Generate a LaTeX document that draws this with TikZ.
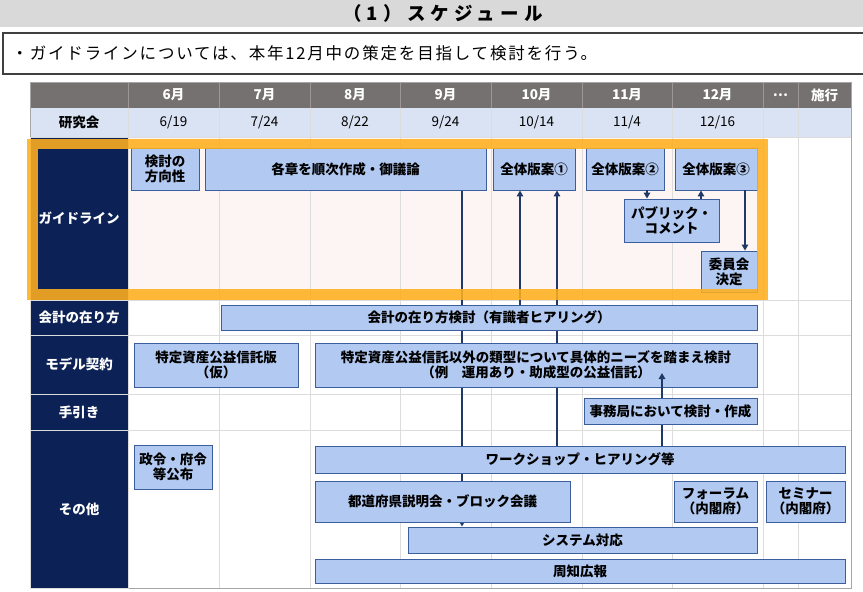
\documentclass[tikz,border=0pt]{standalone}
\usepackage{fontspec}
\setmainfont{Noto Sans CJK JP}
\newfontfamily\titlefont{Noto Sans CJK JP}[LetterSpace=28]
\newfontfamily\leadfont{Noto Sans CJK JP}[LetterSpace=11]
\usetikzlibrary{arrows.meta}

\definecolor{titlegray}{HTML}{D9D9D9}
\definecolor{boxline}{HTML}{404040}
\definecolor{hdrgray}{HTML}{767171}
\definecolor{hdrsep}{HTML}{9C9696}
\definecolor{kenblue}{HTML}{DAE3F3}
\definecolor{pinkbg}{HTML}{FDF5F3}
\definecolor{gridcol}{HTML}{DCDCDC}
\definecolor{tablecol}{HTML}{A6A6A6}
\definecolor{navy}{HTML}{0C2256}
\definecolor{barfill}{HTML}{B2C9F2}
\definecolor{barline}{HTML}{3D5E9C}
\definecolor{arrowcol}{HTML}{1F3A66}
\definecolor{frameorange}{HTML}{FFAF1E}

\newcommand\barfont{\fontsize{13.5}{15}\selectfont\bfseries}
\newcommand\datefont{\fontsize{13.5}{15}\selectfont}

\pgfdeclarelayer{bg}
\pgfdeclarelayer{mid}
\pgfsetlayers{bg,mid,main}

\tikzset{
  bar/.style={draw=barline, fill=barfill, line width=0.9pt, inner sep=1pt, align=center, font=\barfont},
  rowlabel/.style={draw=gridcol, fill=navy, text=white, line width=0.8pt, minimum width=98pt, font=\barfont},
  hdrtext/.style={text=white, font=\barfont},
  datetext/.style={text=black, font=\datefont},
  gridline/.style={draw=gridcol, line width=0.8pt},
  flow/.style={draw=arrowcol, line width=1.8pt, -{Triangle[width=6.5pt,length=6pt]}},
  flowline/.style={draw=arrowcol, line width=1.8pt},
}

\begin{document}
\begin{tikzpicture}[x=1pt,y=-1pt]
\useasboundingbox (0,0) rectangle (863,592);

% title and lead text
\fill[titlegray] (0,0) rectangle (863,27);
\node[font=\titlefont\fontsize{18.5}{20}\selectfont\bfseries] (title) at (443,13.5) {（1）スケジュール};
\draw[boxline, line width=1.2pt] (3,33) rectangle (875,74);
\node[anchor=west, font=\leadfont\fontsize{16.5}{18}\selectfont] (lead) at (8,53) {・ガイドラインについては、本年12月中の策定を目指して検討を行う。};

% table grid
\begin{pgfonlayer}{bg}
  \fill[hdrgray] (30,82) rectangle (851,108);
  \fill[kenblue] (30,108) rectangle (851,137);
  \fill[pinkbg] (128,137) rectangle (763,300);
  \foreach \gx in {128,219,310,400,491,582,672,763,798} {
    \draw[hdrsep, line width=0.8pt] (\gx,82) -- (\gx,108);
    \draw[gridline] (\gx,108) -- (\gx,588);
  }
  \foreach \gy in {137,300,335,394,430}
    \draw[gridline] (128,\gy) -- (851,\gy);
  \draw[tablecol, line width=1pt] (30,82) rectangle (851,588);
\end{pgfonlayer}

% header rows
\foreach \cx/\m/\d in {173.5/6/19,264.5/7/24,355/8/22,445.5/9/24,536.5/10/14,627/11/4,717.5/12/16} {
  \node[hdrtext] (mon\m) at (\cx,95) {\m 月};
  \node[datetext] (ken\m) at (\cx,122.5) {\m/\d};
}
\node[hdrtext] (monmore) at (780.5,95) {…};
\node[hdrtext] (monlaw) at (824.5,95) {施行};
\node[datetext, font=\barfont] (kenlabel) at (79,122.5) {研究会};

% row labels
\node[rowlabel, minimum height=163pt] (lblguide) at (79,218.5) {ガイドライン};
\node[rowlabel, minimum height=35pt] (lblkaikei) at (79,317.5) {会計の在り方};
\node[rowlabel, minimum height=59pt] (lblmodel) at (79,364.5) {モデル契約};
\node[rowlabel, minimum height=36pt] (lbltebiki) at (79,412) {手引き};
\node[rowlabel, minimum height=158pt] (lblother) at (79,509) {その他};

% guideline bars
\node[bar, minimum width=68pt, minimum height=42pt] (dir) at (165,169) {検討の\\方向性};
\node[bar, minimum width=281pt, minimum height=42pt] (draft) at (345.5,169) {各章を順次作成・御議論};
\node[bar, minimum width=82pt, minimum height=42pt] (v1) at (534,169) {全体版案①};
\node[bar, minimum width=78pt, minimum height=42pt] (v2) at (625,169) {全体版案②};
\node[bar, minimum width=82pt, minimum height=42pt] (v3) at (716,169) {全体版案③};
\node[bar, minimum width=95pt, minimum height=43pt] (pubc) at (671.5,220.5) {パブリック・\\コメント};
\node[bar, minimum width=56pt, minimum height=41pt] (kettei) at (729,271.5) {委員会\\決定};

% other bars
\node[bar, minimum width=536pt, minimum height=25pt] (kaikei) at (489,317.5) {会計の在り方検討（有識者ヒアリング）};
\node[bar, minimum width=164pt, minimum height=44pt] (tokutei) at (216,365) {特定資産公益信託版\\（仮）};
\node[bar, minimum width=442pt, minimum height=44pt] (igai) at (536,365) {特定資産公益信託以外の類型について具体的ニーズを踏まえ検討\\（例　運用あり・助成型の公益信託）};
\node[bar, minimum width=173pt, minimum height=26pt] (jimu) at (670.5,411) {事務局において検討・作成};
\node[bar, minimum width=78pt, minimum height=44pt] (seirei) at (173,467) {政令・府令\\等公布};
\node[bar, minimum width=530pt, minimum height=27pt] (ws) at (580,459.5) {ワークショップ・ヒアリング等};
\node[bar, minimum width=255pt, minimum height=41pt] (todo) at (442.5,501.5) {都道府県説明会・ブロック会議};
\node[bar, minimum width=83pt, minimum height=41pt] (forum) at (715.5,501.5) {フォーラム\\（内閣府）};
\node[bar, minimum width=79pt, minimum height=41pt] (seminar) at (805.5,501.5) {セミナー\\（内閣府）};
\node[bar, minimum width=349pt, minimum height=26pt] (system) at (582.5,540) {システム対応};
\node[bar, minimum width=530pt, minimum height=24pt] (shuchi) at (580,571) {周知広報};

% connectors
\coordinate (xa) at (462,0);
\coordinate (xb) at (520,0);
\coordinate (xc) at (557,0);
\coordinate (xd) at (662,0);
\coordinate (xe) at (647,0);
\coordinate (xf) at (701,0);
\coordinate (xg) at (745,0);
\coordinate (igaitip) at (662,373);
\begin{pgfonlayer}{mid}
  \draw[flow] (draft.south -| xa) -- (system.north -| xa);
  \draw[flow] (kaikei.north -| xb) -- (v1.south -| xb);
  \draw[flow] (ws.north -| xc) -- (v1.south -| xc);
  \draw[flowline] (ws.north -| xd) -- (jimu.south -| xd);
\end{pgfonlayer}
\draw[flow] (jimu.north -| xd) -- (igaitip);
\draw[flow] (v2.south -| xe) -- (pubc.north -| xe);
\draw[flow] (pubc.north -| xf) -- (v3.south -| xf);
\draw[flow] (v3.south -| xg) -- (kettei.north -| xg);

% frame round the guideline row
\draw[frameorange, opacity=0.88, line width=10.5pt] (32.5,144) rectangle (762.5,294.5);
\end{tikzpicture}
\end{document}
